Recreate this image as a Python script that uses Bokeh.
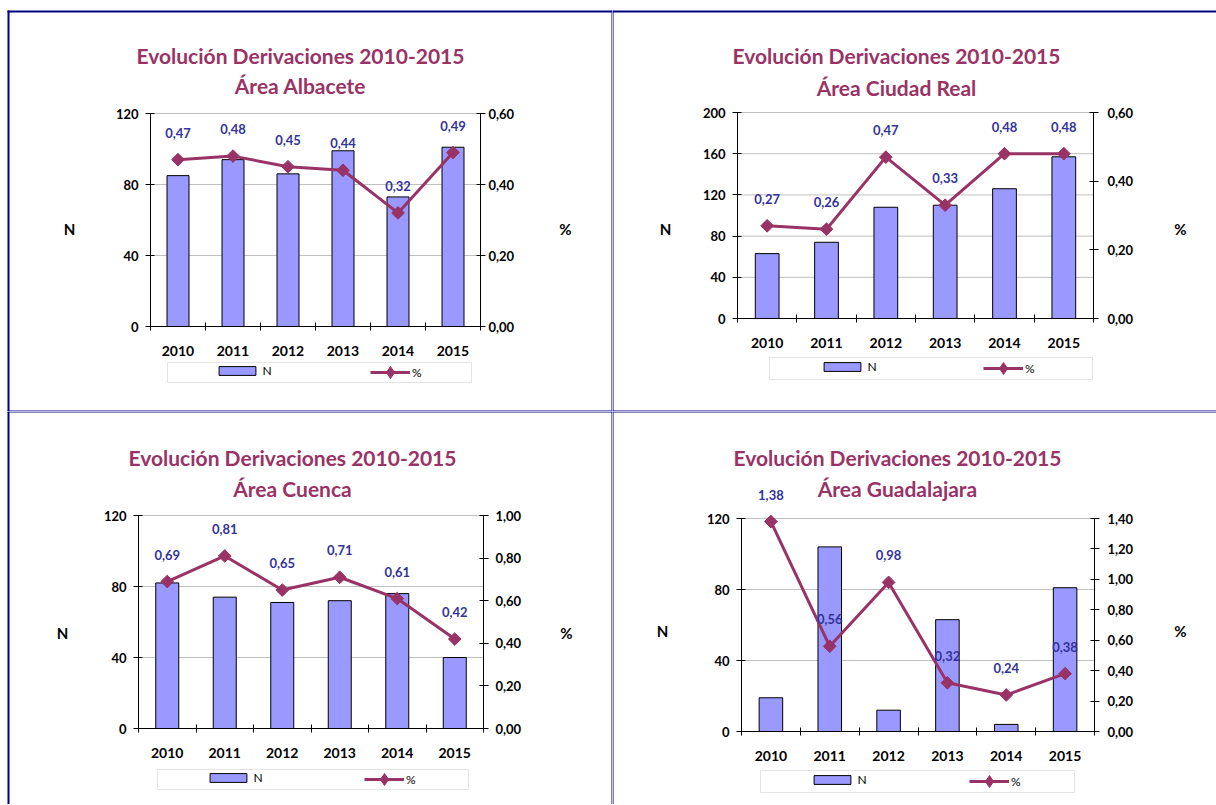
import numpy as np
from bokeh.plotting import figure
from bokeh.models import (Range1d, LinearAxis, FixedTicker, ColumnDataSource, LabelSet, Label,
                          Legend, LegendItem, BoxAnnotation, CustomJSTickFormatter)
from bokeh.core.properties import value
from bokeh.layouts import column, row
from bokeh.embed import file_html
from bokeh.resources import INLINE

# ---------------- data ----------------
years = ["2010", "2011", "2012", "2013", "2014", "2015"]

title_main = "Evolución Derivaciones 2010-2015"
areas = ["Área Albacete", "Área Ciudad Real", "Área Cuenca", "Área Guadalajara"]

albacete_n = [85, 94, 86, 99, 73, 101]
albacete_pct = [0.47, 0.48, 0.45, 0.44, 0.32, 0.49]

ciudad_real_n = [63, 74, 108, 110, 126, 157]
ciudad_real_pct = [0.27, 0.26, 0.47, 0.33, 0.48, 0.48]

cuenca_n = [82, 74, 71, 72, 76, 40]
cuenca_pct = [0.69, 0.81, 0.65, 0.71, 0.61, 0.42]

guadalajara_n = [19, 104, 12, 63, 4, 81]
guadalajara_pct = [1.38, 0.56, 0.98, 0.32, 0.24, 0.38]

n_ticks_120 = [0, 40, 80, 120]
n_ticks_200 = [0, 40, 80, 120, 160, 200]
pct_ticks_06 = [0, 0.2, 0.4, 0.6]
pct_ticks_10 = [0, 0.2, 0.4, 0.6, 0.8, 1.0]
pct_ticks_14 = [0, 0.2, 0.4, 0.6, 0.8, 1.0, 1.2, 1.4]

# ---------------- style ----------------
PLUM = "#993366"
BAR = "#9999FF"
LBL = "#333399"
NAVY = "#000080"
GRID = "#C0C0C0"
FONT = "Lato"


def pct_text(v):
    return f"{v:.2f}".replace(".", ",")


def screen_box(H, x0, x1, y0, y1, **kw):
    """Box given in canvas pixels (top-left origin) -> frame-relative screen units."""
    return BoxAnnotation(left=x0, right=x1, top=H - y0, bottom=H - y1,
                         left_units="screen", right_units="screen",
                         top_units="screen", bottom_units="screen", **kw)


def style_axis(ax, size="13px"):
    ax.axis_line_color = "black"
    ax.major_label_text_font = FONT
    ax.major_label_text_font_style = "bold"
    ax.major_label_text_font_size = size
    ax.major_label_text_color = "black"


def make_panel(area, n_vals, pct_vals, n_ticks, pct_ticks, W, H, frame, title_xy,
               n_xy, p_xy, yr_standoff, legend_geo, borders):
    fl, fr, ft, fb = frame          # plot-area edges in canvas pixels
    ncat = len(years)
    x0d, x1d = -0.5, ncat - 0.5
    kx = (x1d - x0d) / (fr - fl)
    n_top = n_ticks[-1]
    ky = n_top / (fb - ft)
    p_top = pct_ticks[-1]
    kp = p_top / (fb - ft)

    p = figure(width=W, height=H,
               x_range=Range1d(x0d - fl * kx, x0d + (W - fl) * kx),
               y_range=Range1d(-(H - fb) * ky, n_top + ft * ky),
               x_axis_location=None, y_axis_location=None,
               output_backend="svg", toolbar_location=None,
               min_border=0, min_border_left=0, min_border_right=0,
               min_border_top=0, min_border_bottom=0)
    p.title.visible = False
    p.extra_y_ranges = {"pct": Range1d(-(H - fb) * kp, p_top + ft * kp)}
    p.outline_line_color = None
    p.background_fill_color = "white"
    p.border_fill_color = "white"
    p.xgrid.visible = False
    p.ygrid.visible = False

    xs = list(range(ncat))
    src = ColumnDataSource(dict(x=xs, n=n_vals, pct=pct_vals,
                                lbl=[pct_text(v) for v in pct_vals]))

    # cell borders
    for (a, b, c, d) in borders:
        p.add_layout(screen_box(H, a, b, c, d, fill_color=NAVY, fill_alpha=1,
                                line_color=None))

    # horizontal grid lines at the left-axis ticks
    gt = n_ticks[1:]
    p.segment(x0=[x0d] * len(gt), x1=[x1d] * len(gt), y0=gt, y1=gt,
              line_color=GRID, line_width=1, level="underlay")

    # x axis (fixed at N = 0)
    xa = LinearAxis(fixed_location=0, bounds=(x0d, x1d),
                    ticker=FixedTicker(ticks=xs, minor_ticks=[i - 0.5 for i in range(ncat + 1)]))
    xa.major_label_overrides = {i: y for i, y in enumerate(years)}
    xa.major_tick_line_color = None
    xa.major_tick_in = 0
    xa.major_tick_out = 0
    xa.minor_tick_in = 4
    xa.minor_tick_out = 4
    xa.minor_tick_line_color = "black"
    xa.major_label_standoff = 15
    style_axis(xa, "14px")
    p.add_layout(xa, "below")

    # left axis
    ya = LinearAxis(fixed_location=x0d, bounds=(0, n_top), ticker=FixedTicker(ticks=n_ticks))
    ya.major_tick_in = 4
    ya.major_tick_out = 5
    ya.minor_tick_line_color = None
    ya.major_tick_line_color = "black"
    ya.major_label_standoff = 7
    style_axis(ya)
    p.add_layout(ya, "left")

    # right axis
    yr = LinearAxis(y_range_name="pct", fixed_location=x1d, bounds=(0, p_top),
                    ticker=FixedTicker(ticks=pct_ticks),
                    formatter=CustomJSTickFormatter(code="return tick.toFixed(2).replace('.', ',')"))
    yr.major_tick_in = 4
    yr.major_tick_out = 5
    yr.minor_tick_line_color = None
    yr.major_label_standoff = yr_standoff
    style_axis(yr)
    p.add_layout(yr, "right")

    # marks
    bars = p.vbar(x="x", top="n", bottom=0, width=0.4, source=src,
                  fill_color=BAR, line_color="black", line_width=1)
    line = p.line(x="x", y="pct", source=src, y_range_name="pct",
                  line_color=PLUM, line_width=3)
    p.scatter(x="x", y="pct", source=src, y_range_name="pct", marker="square",
              angle=np.pi / 4, size=9, fill_color=PLUM, line_color=PLUM)
    # legend proxy for the diamond marker (never visible in the plot)
    legend_marker = p.scatter(x=[np.nan], y=[np.nan], marker="diamond",
                              fill_color=PLUM, line_color=PLUM)

    p.add_layout(LabelSet(x="x", y="pct", text="lbl", source=src, y_range_name="pct",
                          y_offset=27, text_align="center", text_baseline="middle",
                          text_color=LBL, text_font=value(FONT), text_font_style="bold",
                          text_font_size="13px"))

    # axis titles
    for txt, (lx, ly) in (("N", n_xy), ("%", p_xy)):
        p.add_layout(Label(x=lx, y=H - ly, x_units="screen", y_units="screen", text=txt,
                           text_align="center", text_baseline="middle", text_font=FONT,
                           text_font_style="bold", text_font_size="15px", text_color="black"))

    # chart titles
    tx, ty1, ty2 = title_xy
    for txt, ty in ((title_main, ty1), (area, ty2)):
        p.add_layout(Label(x=tx, y=H - ty, x_units="screen", y_units="screen", text=txt,
                           text_align="center", text_baseline="middle", text_font=FONT,
                           text_font_style="bold", text_font_size="21px", text_color=PLUM))

    # legend box + legends
    bl, br, bt, bb, n_start, p_start = legend_geo
    p.add_layout(screen_box(H, bl, br, bt, bb, fill_color="white", fill_alpha=1,
                            line_color="#A6A6A6", line_width=1))
    cy = H - (bt + bb) / 2
    common = dict(orientation="horizontal", padding=0, margin=0, spacing=0,
                  border_line_color=None, background_fill_alpha=0,
                  label_text_font=FONT, label_text_font_size="12px",
                  label_text_color="black", label_standoff=2)
    leg_n = Legend(items=[LegendItem(label="N", renderers=[bars])],
                   location=(n_start - 4.6, cy - 5.5), glyph_width=46, glyph_height=11,
                   label_height=11, **common)
    leg_p = Legend(items=[LegendItem(label="%", renderers=[line, legend_marker])],
                   location=(p_start, cy - 15), glyph_width=40, glyph_height=30,
                   label_height=30, **common)
    p.add_layout(leg_n, "center")
    p.add_layout(leg_p, "center")
    return p


p1 = make_panel(areas[0], albacete_n, albacete_pct, n_ticks_120, pct_ticks_06,
                612, 411, (150, 480, 113, 326), (300, 55, 85), (69, 228), (565, 228), 3,
                (167, 471, 362, 382, 219, 370),
                [(7, 9, 10, 411), (7, 612, 10, 12), (611, 612, 10, 411), (7, 612, 410, 411)])
p2 = make_panel(areas[1], ciudad_real_n, ciudad_real_pct, n_ticks_200, pct_ticks_06,
                604, 411, (125, 481, 112, 318), (284, 55, 87), (53, 228), (568, 228), 9,
                (157, 480, 357, 379, 212, 371),
                [(0, 1, 10, 411), (0, 604, 10, 12), (0, 604, 410, 411)])
p3 = make_panel(areas[2], cuenca_n, cuenca_pct, n_ticks_120, pct_ticks_10,
                612, 393, (138, 483, 104, 317), (292, 46, 77), (62, 221), (566, 221), 7,
                (157, 468, 358, 378, 210, 364),
                [(7, 9, 0, 393), (7, 612, 0, 1), (611, 612, 0, 393)])
p4 = make_panel(areas[3], guadalajara_n, guadalajara_pct, n_ticks_120, pct_ticks_14,
                604, 393, (129, 482, 107, 320), (285, 46, 77), (50, 219), (568, 219), 8,
                (148, 462, 359, 381, 202, 357),
                [(0, 1, 0, 393), (0, 604, 0, 1)])

layout = column(row(p1, p2), row(p3, p4))
open("out.html", "w").write(file_html(layout, INLINE))
